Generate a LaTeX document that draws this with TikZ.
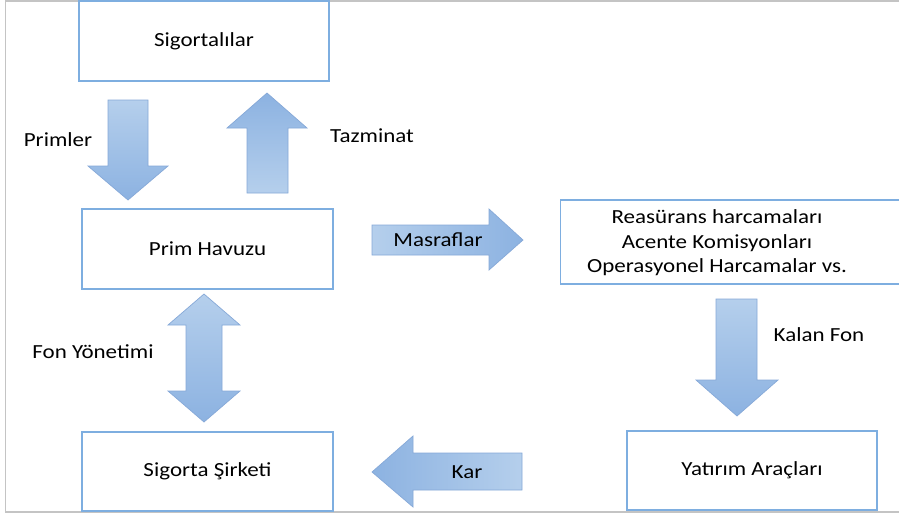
\documentclass[tikz,border=0pt]{standalone}
\usepackage{fontspec}
\setmainfont{Carlito}[FakeStretch=1.15]
\definecolor{boxblue}{HTML}{7EAEE0}
\definecolor{arrowlight}{HTML}{B5CFEC}
\definecolor{arrowdark}{HTML}{8CB2E1}
\definecolor{arrowedge}{HTML}{86A9D8}
\definecolor{framegray}{HTML}{C4C4C4}
\tikzset{every node/.style={font=\fontsize{20}{24.5}\selectfont, inner sep=0pt},
         box/.style={draw=boxblue, line width=1.1pt, minimum width=250, minimum height=80},
         blockarrow/.style={draw=arrowedge, line width=0.7pt, line join=miter},
         down/.style={top color=arrowlight, bottom color=arrowdark},
         up/.style={top color=arrowdark, bottom color=arrowlight},
         right/.style={left color=arrowlight, right color=arrowdark},
         left/.style={left color=arrowdark, right color=arrowlight}}

\begin{document}
\begin{tikzpicture}[x=1pt, y=-1pt]
   \useasboundingbox (0,0) rectangle (899,514);
   \clip (0,0) rectangle (899,514);
   \fill[white] (0,0) rectangle (899,514);
   % outer frame
   \draw[framegray, line width=1.6pt] (905,0.8) -- (5.5,0.8) -- (5.5,512) -- (905,512);
   % boxes
   \node[box] (sig) at (204,41) {Sigortal\i lar};
   \node[box, minimum width=251] (prim) at (207.5,249) {Prim Havuzu};
   \node[box, minimum width=251, minimum height=79] (sirket) at (207.5,471.5) {Sigorta Şirketi};
   \node[box, minimum width=345, minimum height=84, anchor=west] (reas) at (560,242) {};
   \node[align=center] (reastxt) at (717,243) {Reasürans harcamaları\\Acente Komisyonları\\Operasyonel Harcamalar vs.};
   \node[box, minimum height=79] (yat) at (752,470.5) {Yatırım Araçları};
   % block arrows
   \draw[blockarrow, down] (108,100) -- (148,100) -- (148,166) -- (168,166) -- (128,200)
                           -- (88,166) -- (108,166) -- cycle;
   \draw[blockarrow, up]   (247,193) -- (288,193) -- (288,128) -- (307,128) -- (267,93)
                           -- (227,128) -- (247,128) -- cycle;
   \draw[blockarrow, right] (372,225) -- (489,225) -- (489,209) -- (523,240) -- (489,270)
                            -- (489,255) -- (372,255) -- cycle;
   \draw[blockarrow, down] (204,294) -- (240,325) -- (222,325) -- (222,391) -- (240,391)
                           -- (204,422) -- (168,391) -- (186,391) -- (186,325) -- (168,325) -- cycle;
   \draw[blockarrow, down] (716,299) -- (757,299) -- (757,380) -- (778,380) -- (737,416)
                           -- (696,380) -- (716,380) -- cycle;
   \draw[blockarrow, left] (372,472) -- (413,436) -- (413,453) -- (522,453) -- (522,490)
                           -- (413,490) -- (413,507) -- cycle;
   % labels
   \node (primler) at (58,140) {Primler};
   \node (tazminat) at (372,136) {Tazminat};
   \node (masraf) at (438,240) {Masraflar};
   \node (fon) at (93,352) {Fon Yönetimi};
   \node (kalan) at (819,335) {Kalan Fon};
   \node (kar) at (467,472) {Kar};
\end{tikzpicture}
\end{document}
